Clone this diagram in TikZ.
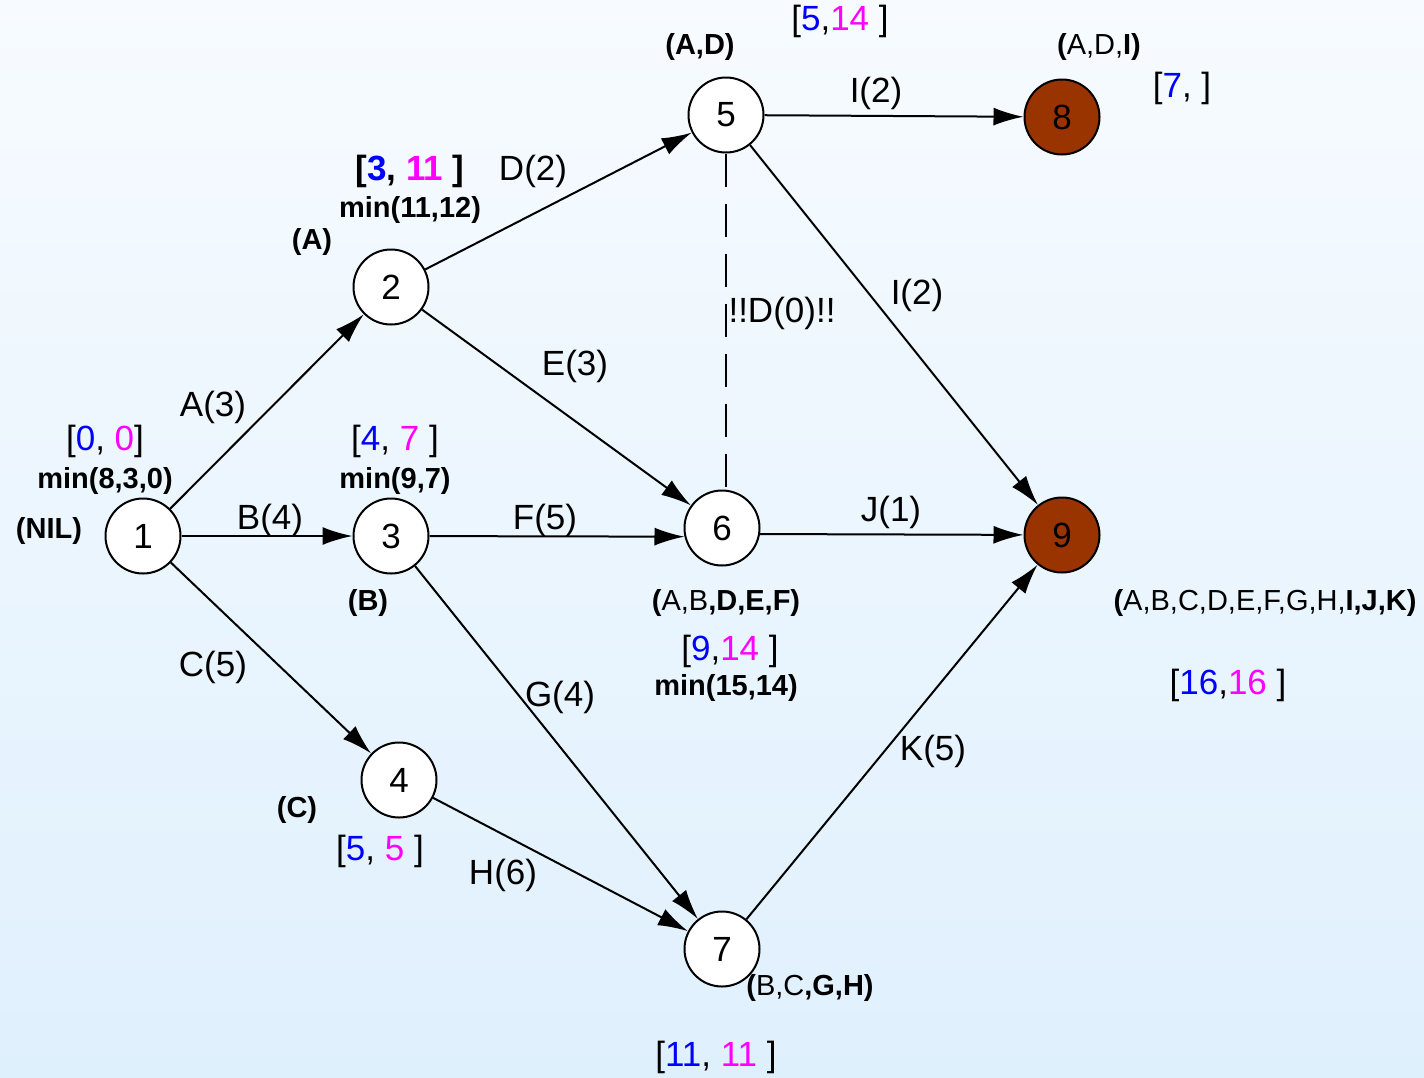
\documentclass[tikz,border=0pt]{standalone}
\usepackage{fontspec}
\setmainfont{Liberation Sans}
\usetikzlibrary{arrows.meta, positioning}

\definecolor{lo}{RGB}{0,0,255}
\definecolor{hi}{RGB}{255,0,255}
\definecolor{done}{RGB}{153,51,0}
\newcommand{\lo}[1]{\textcolor{lo}{#1}}
\newcommand{\hi}[1]{\textcolor{hi}{#1}}

\tikzset{
    event/.style = {draw, circle, line width = 1pt, fill = white, minimum size = 37.5pt,
                    inner sep = 0pt, font = \fontsize{17.5}{20}\selectfont},
    sink/.style = {event, fill = done},
    act/.style = {-{Latex[length = 15pt, width = 9pt]}, line width = 1pt},
    dummy/.style = {line width = 1pt, dash pattern = on 16.5pt off 8.5pt},
    lbl/.style = {inner sep = 0pt, font = \fontsize{17.5}{20}\selectfont},
    tag/.style = {inner sep = 0pt, font = \fontsize{14.5}{17}\selectfont\bfseries}
}

\begin{document}
\begin{tikzpicture}[x = 0.5pt, y = -0.5pt]
                \fill [top color = {rgb,255:red,247;green,251;blue,255},
                       bottom color = {rgb,255:red,223;green,240;blue,253}]
                      (0, 0) rectangle (1424, 1077);

                % events
                \node [event] (E1) at (143, 536) {1};
                \node [event] (E2) at (391, 287) {2};
                \node [event] (E3) at (391, 536) {3};
                \node [event] (E4) at (399, 780) {4};
                \node [event] (E5) at (726, 115) {5};
                \node [event] (E6) at (722, 528) {6};
                \node [event] (E7) at (722, 949) {7};
                \node [sink] (E8) at (1062, 117) {8};
                \node [sink] (E9) at (1062, 535) {9};

                % activities
                \draw [act] (E1) to (E2);
                \draw [act] (E1) to (E3);
                \draw [act] (E1) to (E4);
                \draw [act] (E2) to (E5);
                \draw [act] (E2) to (E6);
                \draw [act] (E3) to (E6.193);
                \draw [act] (E3) to (E7);
                \draw [act] (E4) to (E7);
                \draw [act] (E5) to (E8);
                \draw [act] (E5) to (E9);
                \draw [act] (E6.-9) to (E9);
                \draw [act] (E7) to (E9);
                \draw [dummy] (E5.south) to (E5.south |- E6.north);

                \node [lbl] (A) at (213, 407) {A(3)};
                \node [lbl] (B) at (270, 520) {B(4)};
                \node [lbl] (C) at (213, 667) {C(5)};
                \node [lbl] (D) at (533, 171) {D(2)};
                \node [lbl] (E) at (575, 366) {E(3)};
                \node [lbl] (F) at (545, 520) {F(5)};
                \node [lbl] (G) at (560, 697) {G(4)};
                \node [lbl] (H) at (503, 875) {H(6)};
                \node [lbl] (I1) at (876, 93) {I(2)};
                \node [lbl] (I2) at (917, 295) {I(2)};
                \node [lbl] (J) at (891, 512) {J(1)};
                \node [lbl] (K) at (933, 751) {K(5)};
                \node [lbl] (D0) at (782, 313) {!!D(0)!!};

                % time windows and paths
                \node [tag] (P1) at (49, 531) {(NIL)};
                \node [lbl] (T1) at (105, 441) {[\lo{0}, \hi{0}]};
                \node [tag] (M1) at (105, 481) {min(8,3,0)};

                \node [tag] (P2) at (312, 242) {(A)};
                \node [lbl, font = \fontsize{17.5}{20}\selectfont\bfseries] (T2) at (410, 171) {[\lo{3}, \hi{11} ]};
                \node [tag] (M2) at (410, 210) {min(11,12)};

                \node [lbl] (T3) at (395, 441) {[\lo{4}, \hi{7} ]};
                \node [tag] (M3) at (395, 481) {min(9,7)};
                \node [tag] (P3) at (368, 603) {(B)};

                \node [tag] (P4) at (297, 810) {(C)};
                \node [lbl] (T4) at (380, 851) {[\lo{5}, \hi{5} ]};

                \node [tag] (P5) at (700, 47) {(A,D)};
                \node [lbl] (T5) at (840, 21) {[\lo{5},\hi{14} ]};

                \node [tag] (P8) at (1099, 47) {(\mdseries A,D,\bfseries I)};
                \node [lbl] (T8) at (1182, 88) {[\lo{7}, ]};

                \node [tag] (P6) at (726, 603) {(\mdseries A,B\bfseries ,D,E,F)};
                \node [lbl] (T6) at (730, 651) {[\lo{9},\hi{14} ]};
                \node [tag] (M6) at (726, 688) {min(15,14)};

                \node [tag] (P9) at (1265, 603) {(\mdseries A,B,C,D,E,F,G,H,\bfseries I,J,K)};
                \node [lbl] (T9) at (1228, 685) {[\lo{16},\hi{16} ]};

                \node [tag] (P7) at (810, 988) {(\mdseries B,C\bfseries ,G,H)};
                \node [lbl] (T7) at (716, 1057) {[\lo{11}, \hi{11} ]};
            \end{tikzpicture}
\end{document}
